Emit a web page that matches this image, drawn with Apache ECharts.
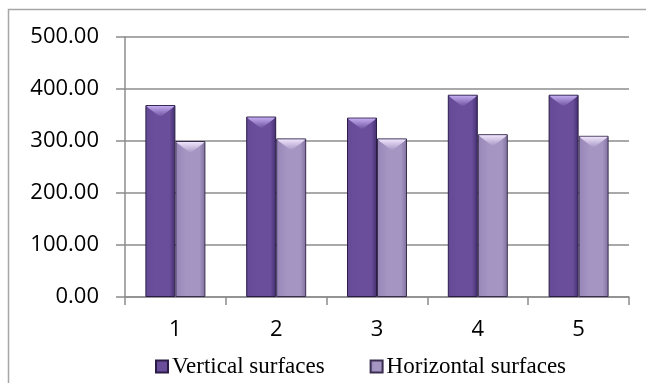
<!DOCTYPE html>
<html>
<head>
<meta charset="utf-8">
<style>
  html, body { margin: 0; padding: 0; background: #fff; }
  #chart { width: 646px; height: 383px; }
</style>
<script src="https://cdn.jsdelivr.net/npm/echarts@6/dist/echarts.min.js"></script>
</head>
<body>
<div id="chart"></div>
<script>
// Surface measurements per sample
const categories = ['1', '2', '3', '4', '5'];
const verticalSurfaces = [369, 347, 345, 389, 389];
const horizontalSurfaces = [300, 305, 305, 313, 310];
const seriesNames = ['Vertical surfaces', 'Horizontal surfaces'];
const yTicks = { min: 0, max: 500, interval: 100 };

const BAR_W = 30;

function shade(left, mid, right) {
  return new echarts.graphic.LinearGradient(0, 0, 1, 0, [
    { offset: 0, color: left },
    { offset: 0.35, color: mid },
    { offset: 0.8, color: mid },
    { offset: 1, color: right }
  ]);
}
const darkFill = shade('#654a96', '#6a4e9c', '#432e6e');
const lightFill = shade('#9685b6', '#a595c3', '#7f6f9d');

// Bevelled top cap drawn over each bar
function bevel(offsetSign, light, base) {
  return function (params, api) {
    const x = api.value(0);
    const v = api.value(1);
    const top = api.coord([x, v]);
    const cx = top[0];
    const x0 = offsetSign < 0 ? cx - BAR_W : cx;
    const x1 = x0 + BAR_W;
    const y = top[1];
    const h = 12;
    return {
      type: 'polygon',
      shape: { points: [[x0 + 1, y + 1], [x1 - 1, y + 1], [x1 - 3, y + 3], [(x0 + x1) / 2, y + h], [x0 + 3, y + 3]] },
      style: {
        fill: new echarts.graphic.LinearGradient(0, 0, 0, 1, [
          { offset: 0, color: light },
          { offset: 1, color: base }
        ])
      }
    };
  };
}

const chart = echarts.init(document.getElementById('chart'), null, { renderer: 'canvas' });
chart.setOption({
  animation: false,
  backgroundColor: '#ffffff',
  graphic: [{
    type: 'polyline',
    shape: { points: [[8.5, 400], [8.5, 9.5], [660, 9.5]] },
    style: { stroke: '#a6a6a6', lineWidth: 1.5, fill: null },
    silent: true
  }],
  grid: { left: 125, right: 17, top: 37, bottom: 86, containLabel: false },
  legend: {
    data: seriesNames,
    left: 150,
    top: 350,
    itemWidth: 12,
    itemHeight: 12,
    itemGap: 45,
    icon: 'rect',
    textStyle: { fontFamily: 'Liberation Serif', fontSize: 23, color: '#000', padding: [0, 0, 0, -1] }
  },
  xAxis: {
    type: 'category',
    data: categories,
    axisLine: { lineStyle: { color: '#8c8c8c', width: 1.5 } },
    axisTick: { show: true, length: 8, lineStyle: { color: '#8c8c8c', width: 1.5 } },
    axisLabel: { fontFamily: 'Open Sans', fontSize: 22, color: '#000', margin: 22 },
    splitLine: { show: false }
  },
  yAxis: {
    type: 'value',
    min: yTicks.min,
    max: yTicks.max,
    interval: yTicks.interval,
    axisLine: { show: true, lineStyle: { color: '#8c8c8c', width: 1.5 } },
    axisTick: { show: true, length: 9, lineStyle: { color: '#8c8c8c', width: 1.5 } },
    axisLabel: {
      fontFamily: 'Open Sans', fontSize: 22, color: '#000', margin: 26,
      formatter: v => v.toFixed(2)
    },
    splitLine: { lineStyle: { color: '#8c8c8c', width: 1.5 } }
  },
  series: [
    {
      name: seriesNames[0],
      type: 'bar',
      data: verticalSurfaces,
      barWidth: BAR_W,
      barGap: '0%',
      itemStyle: { color: darkFill, borderColor: '#2a1c46', borderWidth: 1 },
      z: 2
    },
    {
      name: seriesNames[1],
      type: 'bar',
      data: horizontalSurfaces,
      barWidth: BAR_W,
      barGap: '0%',
      itemStyle: { color: lightFill, borderColor: '#3a2e50', borderWidth: 1 },
      z: 2
    },
    {
      type: 'custom',
      renderItem: bevel(-1, '#c3acef', '#6a4e9c'),
      data: verticalSurfaces.map((v, i) => [i, v]),
      encode: { x: 0, y: 1 },
      z: 3,
      silent: true,
      tooltip: { show: false }
    },
    {
      type: 'custom',
      renderItem: bevel(1, '#eee4fb', '#a595c3'),
      data: horizontalSurfaces.map((v, i) => [i, v]),
      encode: { x: 0, y: 1 },
      z: 3,
      silent: true,
      tooltip: { show: false }
    }
  ]
});
</script>
</body>
</html>
